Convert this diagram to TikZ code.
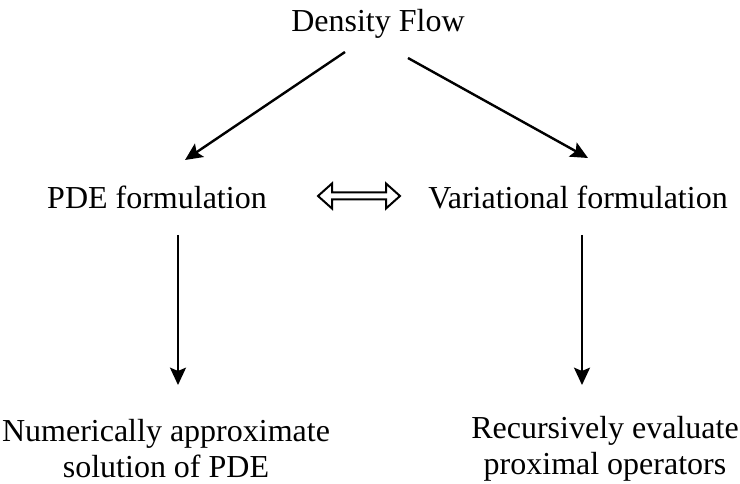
\documentclass[tikz,border=0pt]{standalone}
\usepackage{fontspec}
\setmainfont{Liberation Serif}
\usetikzlibrary{arrows.meta,calc}
\begin{document}
\begin{tikzpicture}[x=0.75pt,y=-0.75pt,
  lbl/.style={font=\fontsize{24}{27}\selectfont, align=center, inner sep=0pt},
  arr/.style={line width=1.8pt, -{Stealth[length=13pt,width=12pt,inset=2.5pt]}},
  dblarr/.style={line width=1.5pt, line join=miter}]
\useasboundingbox (0,0) rectangle (740,484);
\node[lbl] (df) at (378,24) {Density Flow};
\node[lbl] (pde) at (157,197) {PDE formulation};
\node[lbl] (var) at (578,197) {Variational formulation};
\node[lbl] (num) at (166,449) {Numerically approximate\\solution of PDE};
\node[lbl] (rec) at (605,449) {Recursively evaluate\\proximal operators};
\coordinate (a1) at (345,52); \coordinate (a2) at (185,160);
\coordinate (b1) at (408,58); \coordinate (b2) at (588,158);
\coordinate (c1) at (178,235); \coordinate (c2) at (178,385);
\coordinate (d1) at (582,235); \coordinate (d2) at (582,385);
\coordinate (e1) at (318,196); \coordinate (e2) at (400,196);
\draw[arr] (a1) -- (a2);
\draw[arr] (b1) -- (b2);
\draw[arr] (c1) -- (c2);
\draw[arr] (d1) -- (d2);
\draw[dblarr] (e1) -- ++(14,-12.5) -- ++(0,9) -- ($(e2)+(-14,-3.5)$) -- ++(0,-9) -- (e2)
  -- ++(-14,12.5) -- ++(0,-9) -- ($(e1)+(14,3.5)$) -- ++(0,9) -- cycle;
\end{tikzpicture}
\end{document}
